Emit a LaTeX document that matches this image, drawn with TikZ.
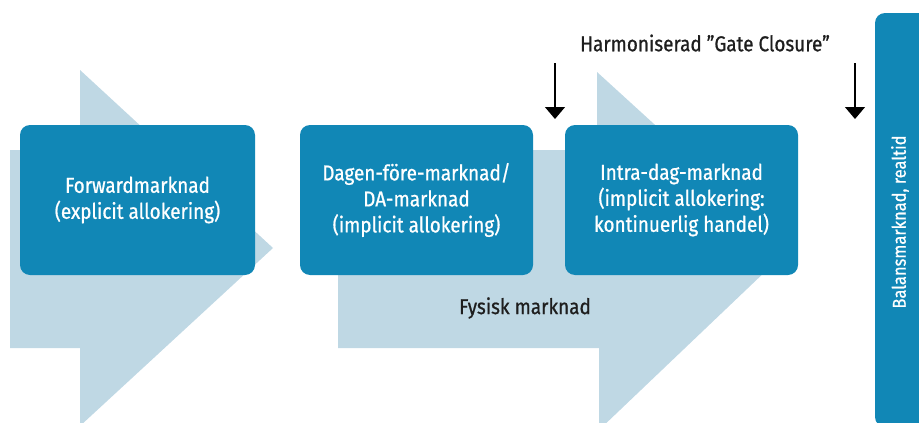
\documentclass[tikz,border=0pt]{standalone}
\usepackage{fontspec}
\setmainfont{Fira Sans}[FakeStretch=0.88, FakeBold=0.8]
\usetikzlibrary{arrows.meta}
\definecolor{boxblue}{RGB}{17,135,182}
\definecolor{flowblue}{RGB}{191,216,228}
\definecolor{inkgray}{RGB}{30,30,30}
\begin{document}
\begin{tikzpicture}[x=1pt,y=-1pt,
  marketbox/.style={fill=boxblue, rounded corners=10pt, text=white, align=center,
    inner sep=0pt, minimum height=150pt, font=\fontsize{21.5}{26}\selectfont},
  plainlabel/.style={text=inkgray, inner sep=0pt, font=\fontsize{21.5}{26}\selectfont},
  closure/.style={line width=1.3pt, -{Triangle[width=20pt,length=12pt]}}]
\useasboundingbox (0,0) rectangle (919,423);
\clip (0,0) rectangle (919,423);
% phase arrows in the background
\fill[flowblue] (10,150) -- (80,150) -- (80,70) -- (273,248) -- (80,426) -- (80,348) -- (10,348) -- cycle;
\fill[flowblue] (338,150) -- (597,150) -- (597,72) -- (790,248) -- (599,430) -- (599,348) -- (338,348) -- cycle;
% markets
\node[marketbox, minimum width=235pt] (fwd) at (137.5,200) {Forwardmarknad\\(explicit allokering)};
\node[marketbox, minimum width=233pt] (da) at (416.5,200) {Dagen-före-marknad/\\DA-marknad\\(implicit allokering)};
\node[marketbox, minimum width=233pt] (intra) at (681.5,200) {Intra-dag-marknad\\(implicit allokering:\\kontinuerlig handel)};
\node[fill=boxblue, rounded corners=10pt, minimum width=90pt, minimum height=414pt, inner sep=0pt] (bal) at (920,220) {};
\node[rotate=90, text=white, inner sep=0pt, font=\fontsize{18.7}{22}\selectfont] (baltext) at (900,222) {Balansmarknad, realtid};
% labels
\node[plainlabel] (fys) at (525,308) {Fysisk marknad};
\node[plainlabel] (gate) at (705,43) {Harmoniserad ”Gate Closure”};
% gate closure markers
\coordinate (g1a) at (555,63);
\coordinate (g1b) at (555,119);
\coordinate (g2a) at (855,63);
\coordinate (g2b) at (855,119);
\draw[closure] (g1a) -- (g1b);
\draw[closure] (g2a) -- (g2b);
\end{tikzpicture}
\end{document}
